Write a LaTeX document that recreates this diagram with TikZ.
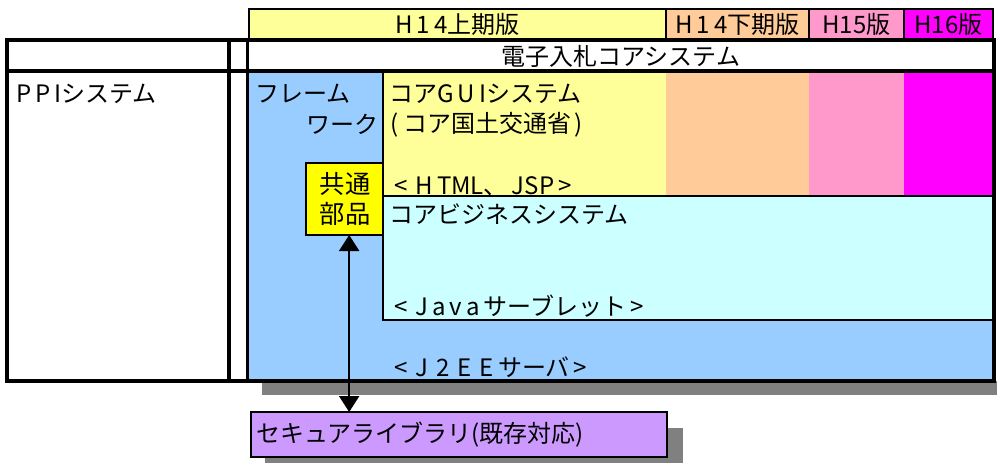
\documentclass[tikz,border=0pt]{standalone}
\usepackage{fontspec}
\setmainfont{Noto Sans CJK JP}
\usetikzlibrary{fit,arrows.meta}
\definecolor{hyel}{HTML}{FFFF99}
\definecolor{horg}{HTML}{FFCC99}
\definecolor{hpnk}{HTML}{FF99CC}
\definecolor{hmag}{HTML}{FF00FF}
\definecolor{fwblue}{HTML}{99CCFF}
\definecolor{bizcyan}{HTML}{CCFFFF}
\definecolor{kyel}{HTML}{FFFF00}
\definecolor{secpur}{HTML}{CC99FF}
\definecolor{shgray}{HTML}{808080}
\newcommand{\ls}{\hspace{3pt}}
\begin{document}
\begin{tikzpicture}[x=0.75pt,y=-0.75pt,
  region/.style={inner sep=0pt,outer sep=0pt},
  box/.style={region,draw=black,line width=1.5pt},
  txt/.style={inner sep=0pt,font=\fontsize{18pt}{21pt}\selectfont},
  htxt/.style={inner sep=0pt,font=\fontsize{18pt}{21pt}\selectfont},
  thick line/.style={line width=2.4pt,black},
  arr/.style={line width=1.5pt,{Triangle[width=15pt,length=12pt]}-{Triangle[width=15pt,length=12pt]}}]
\clip (0,0) rectangle (997,462);
\fill[white] (0,0) rectangle (997,462);
% shadows
\fill[shgray] (262,381) rectangle (1005,395);
\fill[shgray] (265,428) rectangle (683,475);
% version header boxes
\node[box,fill=hyel,fit={(249,9)(666,39)}] (h14a) {};
\node[box,fill=horg,fit={(666,9)(809,39)}] (h14b) {};
\node[box,fill=hpnk,fit={(809,9)(904,39)}] (h15) {};
\node[box,fill=hmag,fit={(904,9)(993,39)}] (h16) {};
\node[htxt] (t14a) at ([yshift=-0.5pt]h14a.center) {H\ls1\ls4上期版};
\node[htxt] (t14b) at ([yshift=-0.5pt]h14b.center) {H\ls1\ls4下期版};
\node[htxt] (t15) at ([yshift=-0.5pt]h15.center) {H15版};
\node[htxt] (t16) at ([yshift=-0.5pt]h16.center) {H16版};
% framework region and version columns
\node[region,fill=fwblue,fit={(248,71)(994,381)}] (fw) {};
\node[region,fill=hyel,fit={(383,71)(666,196)}] (gui) {};
\node[region,fill=horg,fit={(666,71)(809,196)}] (c14b) {};
\node[region,fill=hpnk,fit={(809,71)(904,196)}] (c15) {};
\node[region,fill=hmag,fit={(904,71)(994,196)}] (c16) {};
\draw[line width=1.5pt] (gui.north west) -- (gui.south west);
\node[box,fill=bizcyan,fit={(383,196)(994,320)}] (biz) {};
\node[box,fill=kyel,fit={(306,163)(383,235)}] (kyotsu) {};
% table
\node[region,fit={(248,40)(994,71)}] (core) {};
\node[region,fit={(7,40)(994,381)}] (table) {};
\draw[thick line] (table.north west) rectangle (table.south east);
\draw[thick line] (table.west |- core.south) -- (table.east |- core.south);
\draw[thick line] (229,40) -- (229,381);
\draw[thick line] (247.5,40) -- (247.5,381);
% texts
\node[htxt] (tcore) at ([yshift=-1pt]core.center) {電子入札コアシステム};
\node[txt,anchor=west] (tppi) at (16,94) {P\ls P\ls Iシステム};
\node[txt,anchor=west] (tfw1) at (255,94) {フレーム};
\node[txt,anchor=east] (tfw2) at (379,124) {ワーク};
\node[txt,anchor=west] (tgui1) at (389,94) {コアG\ls U\ls Iシステム};
\node[txt,anchor=west] (tgui2) at (390,125) {(\hspace{4pt}コア国土交通省\hspace{2pt})};
\node[txt,anchor=west] (tgui3) at (394,186) {<\ls\ls H\ls TML、\ls JSP\ls >};
\node[txt,align=center,font=\fontsize{19pt}{23pt}\selectfont] (tky) at ([xshift=0.5pt]kyotsu.center) {共通\\部品};
\node[txt,anchor=west] (tbiz1) at (389,214) {コアビジネスシステム};
\node[txt,anchor=west] (tbiz2) at (394,306) {<\ls\ls J\ls a\ls v\ls a\ls サーブレット\ls >};
\node[txt,anchor=west] (tj2ee) at (394,367) {<\ls\ls J\ls\ls 2\ls\ls E\ls\ls E\ls サーバ\ls >};
% security library
\node[box,fill=secpur,fit={(251,412)(667,457)}] (secu) {};
\node[txt,anchor=west] (tsecu) at (256,435) {セキュアライブラリ(既存対応)};
% arrow
\draw[arr] ([xshift=3.5pt]kyotsu.south) -- ([xshift=3.5pt]kyotsu.south |- secu.north);
\end{tikzpicture}
\end{document}
